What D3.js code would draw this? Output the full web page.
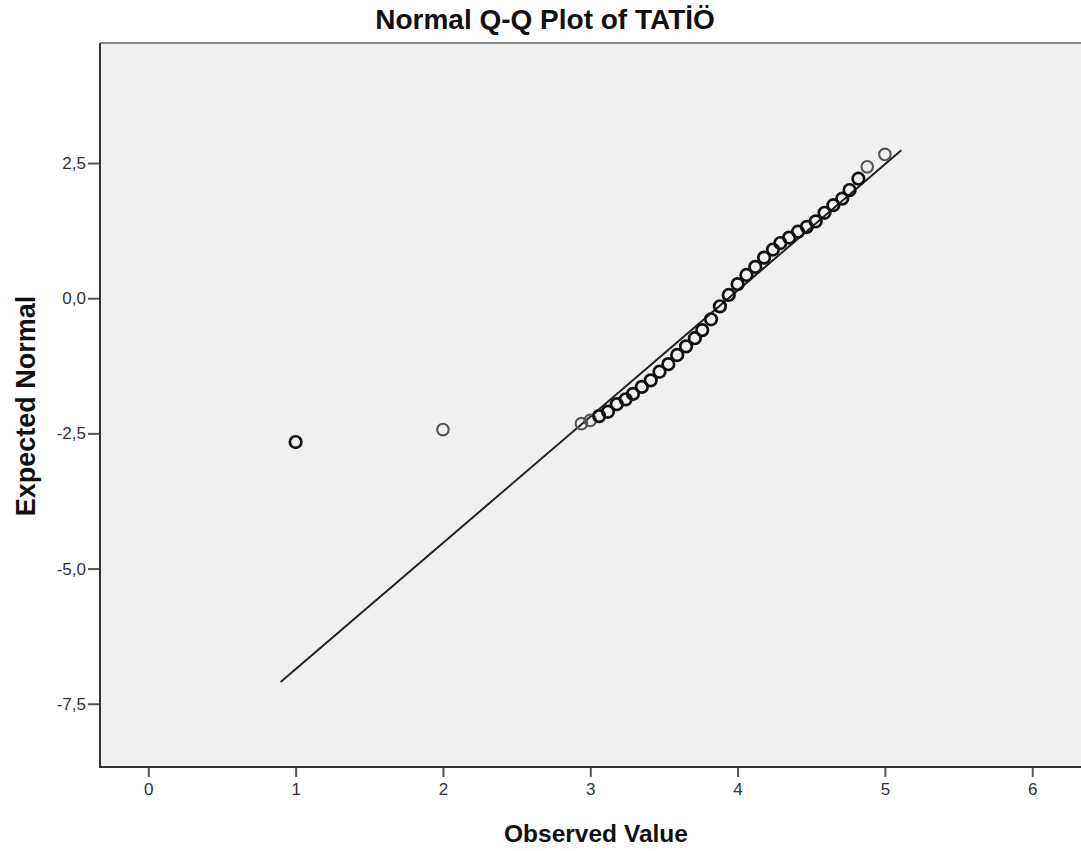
<!DOCTYPE html>
<html><head><meta charset="utf-8">
<script src="https://cdn.jsdelivr.net/npm/d3@7"></script>
<style>body{margin:0;background:#fff}</style>
</head><body>
<svg id="chart" width="1081" height="851"></svg>
<script>
// ---- data ----
const observed = [1.00, 2.00,
  2.94, 3.00, 3.06, 3.12, 3.18, 3.24, 3.29, 3.35, 3.41, 3.47, 3.53, 3.59, 3.65, 3.71, 3.76, 3.82, 3.88, 3.94,
  4.00, 4.06, 4.12, 4.18, 4.24, 4.29, 4.35, 4.41, 4.47, 4.53, 4.59, 4.65, 4.71, 4.76, 4.82, 4.88, 5.00];
const expected = [-2.66, -2.43,
  -2.32, -2.26, -2.18, -2.10, -1.96, -1.87, -1.77, -1.64, -1.52, -1.36, -1.22, -1.05, -0.89, -0.74, -0.59, -0.39, -0.15, 0.06,
  0.26, 0.43, 0.58, 0.75, 0.90, 1.02, 1.12, 1.23, 1.32, 1.42, 1.58, 1.72, 1.84, 2.00, 2.21, 2.43, 2.66];
const caseCounts = [2, 1,
  1, 1, 2, 2, 2, 2, 2, 2, 2, 2, 2, 2, 2, 2, 2, 2, 2, 2,
  2, 2, 2, 2, 2, 2, 2, 2, 2, 2, 2, 2, 2, 2, 2, 1, 1];
const lineObserved = [0.898, 5.111];
const lineExpected = [-7.10, 2.736];
const xTicks = [0, 1, 2, 3, 4, 5, 6];
const yTicks = [2.5, 0.0, -2.5, -5.0, -7.5];
const titleText = "Normal Q-Q Plot of TATİÖ";
const xTitle = "Observed Value";
const yTitle = "Expected Normal";

// ---- layout ----
const svg = d3.select("#chart");
const L = 100, R = 1081, T = 43, B = 767;
const x = d3.scaleLinear().domain([-0.328, 6.331]).range([L, R]);
const y = d3.scaleLinear().domain([4.72, -8.67]).range([T, B]);
const loc = d3.formatLocale({decimal: ",", thousands: ".", grouping: [3], currency: ["", ""], minus: "-"});
const fmtY = loc.format(".1f");
const font = "Arial, 'Liberation Sans', sans-serif";

svg.append("rect").attr("x", L).attr("y", T).attr("width", R - L).attr("height", B - T)
  .attr("fill", "#f0f0f0");
svg.append("line").attr("x1", L).attr("x2", R).attr("y1", T).attr("y2", T)
  .attr("stroke", "#8a8a8a").attr("stroke-width", 2);

// axes
const xAxis = svg.append("g").attr("transform", `translate(0,${B})`)
  .call(d3.axisBottom(x).tickValues(xTicks).tickSize(10).tickPadding(6).tickFormat(d3.format("d")));
const yAxis = svg.append("g").attr("transform", `translate(${L},0)`)
  .call(d3.axisLeft(y).tickValues(yTicks).tickSize(12).tickPadding(2).tickFormat(fmtY));
[xAxis, yAxis].forEach(g => {
  g.select(".domain").remove();
  g.selectAll(".tick line").attr("stroke", "#555").attr("stroke-width", 2);
  g.selectAll(".tick text").attr("fill", "#333").style("font-family", font).style("font-size", "17px");
});
// axis lines
svg.append("line").attr("x1", L).attr("x2", L).attr("y1", T).attr("y2", B + 1)
  .attr("stroke", "#333").attr("stroke-width", 2);
svg.append("line").attr("x1", L).attr("x2", R).attr("y1", B).attr("y2", B)
  .attr("stroke", "#333").attr("stroke-width", 2);

// reference line
svg.append("line")
  .attr("x1", x(lineObserved[0])).attr("y1", y(lineExpected[0]))
  .attr("x2", x(lineObserved[1])).attr("y2", y(lineExpected[1]))
  .attr("stroke", "#222").attr("stroke-width", 2);

// points
const pts = observed.map((o, i) => ({o, e: expected[i], n: caseCounts[i]}));
svg.append("g").selectAll("circle").data(pts).join("circle")
  .attr("cx", d => x(d.o)).attr("cy", d => y(d.e)).attr("r", 5.8)
  .attr("fill", "none")
  .attr("stroke", d => d.n > 1 ? "#111" : "#555")
  .attr("stroke-width", d => d.n > 1 ? 2.7 : 2.1);

// titles
svg.append("text").attr("x", 545).attr("y", 29).attr("text-anchor", "middle")
  .style("font-family", font).style("font-size", "28px").style("font-weight", "bold")
  .attr("fill", "#111").text(titleText);
svg.append("text").attr("x", 596).attr("y", 842).attr("text-anchor", "middle")
  .style("font-family", font).style("font-size", "24.5px").style("font-weight", "bold")
  .attr("fill", "#111").text(xTitle);
svg.append("text").attr("transform", "translate(35,406) rotate(-90)").attr("text-anchor", "middle")
  .style("font-family", font).style("font-size", "27px").style("font-weight", "bold")
  .attr("fill", "#111").text(yTitle);
</script>
</body></html>
